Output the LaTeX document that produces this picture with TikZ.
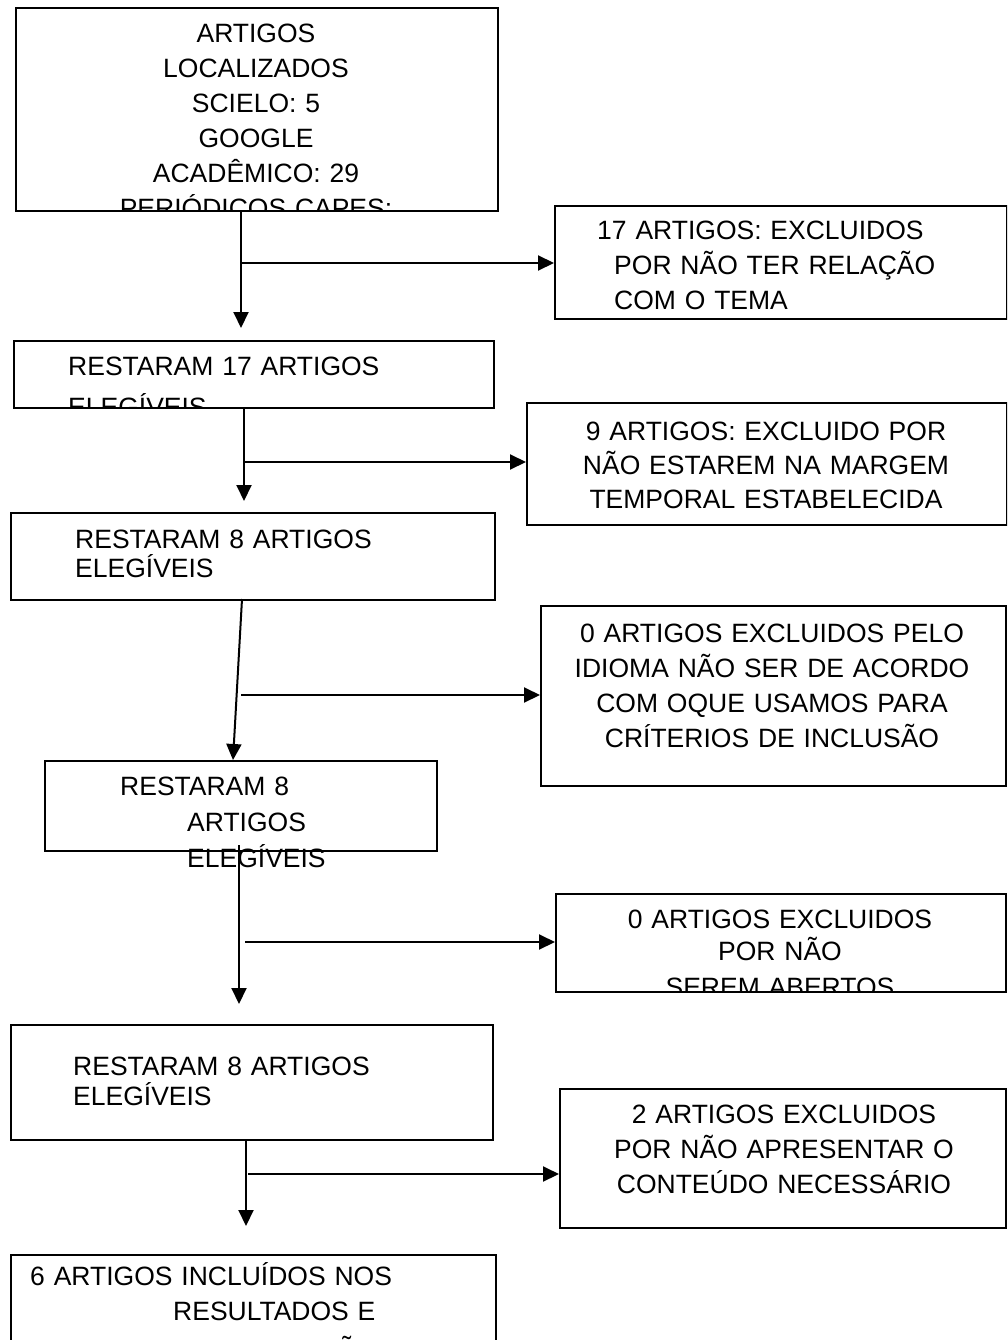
\documentclass[tikz,border=0pt]{standalone}
\usepackage{fontspec}
\setmainfont{Liberation Sans}
\usetikzlibrary{arrows.meta}
\tikzset{
  box/.style={draw=black, line width=1.9pt, inner sep=0pt, anchor=north west},
  txt/.style={font=\fontsize{26.5}{35}\selectfont, inner sep=0pt, anchor=base},
  ltxt/.style={txt, anchor=base west, align=left},
  ctxt/.style={txt, anchor=base, align=center},
  arr/.style={line width=2pt, -{Triangle[length=16pt,width=15pt]}},
}
\begin{document}
\begin{tikzpicture}[x=1pt,y=-1pt]
\useasboundingbox (0,0) rectangle (1007,1340);
\clip (0,0) rectangle (1007,1340);
\fill[white] (0,0) rectangle (1007,1340);

% boxes
\node[box, minimum width=482pt, minimum height=203pt] (b1) at (15,7) {};
\node[box, minimum width=452pt, minimum height=113pt] (b3) at (554,205) {};
\node[box, minimum width=480pt, minimum height=67pt] (b2) at (13,340) {};
\node[box, minimum width=480pt, minimum height=122pt] (b4) at (526,402) {};
\node[box, minimum width=484pt, minimum height=87pt] (b5) at (10,512) {};
\node[box, minimum width=465pt, minimum height=180pt] (b6) at (540,605) {};
\node[box, minimum width=392pt, minimum height=90pt] (b7) at (44,760) {};
\node[box, minimum width=450pt, minimum height=98pt] (b8) at (555,893) {};
\node[box, minimum width=482pt, minimum height=115pt] (b9) at (10,1024) {};
\node[box, minimum width=446pt, minimum height=139pt] (b10) at (559,1088) {};
\node[box, minimum width=485pt, minimum height=120pt] (b11) at (10,1254) {};

% texts
\begin{scope}
\clip (b1.south west) rectangle (b1.north east);
\node[ctxt, text width=470pt] (t1) at (256,43) {ARTIGOS\\LOCALIZADOS\\SCIELO: 5\\GOOGLE\\ACADÊMICO: 29\\PERIÓDICOS CAPES:};
\end{scope}
\node[ltxt, text width=400pt] (t3) at (597,240) {17 ARTIGOS: EXCLUIDOS\\\hspace*{17pt}POR NÃO TER RELAÇÃO\\\hspace*{17pt}COM O TEMA};
\begin{scope}
\clip (b2.south west) rectangle (b2.north east);
\node[ltxt, text width=420pt] (t2) at (68,375) {RESTARAM 17 ARTIGOS\\[6pt]ELEGÍVEIS};
\end{scope}
\node[ctxt, text width=470pt, font=\fontsize{26.5}{34}\selectfont] (t4) at (766,440) {9 ARTIGOS: EXCLUIDO POR\\NÃO ESTAREM NA MARGEM\\TEMPORAL ESTABELECIDA};
\node[ltxt, text width=400pt, font=\fontsize{26.5}{29}\selectfont] (t5) at (75,548) {RESTARAM 8 ARTIGOS\\ELEGÍVEIS};
\node[ctxt, text width=460pt] (t6) at (772,642) {0 ARTIGOS EXCLUIDOS PELO\\IDIOMA NÃO SER DE ACORDO\\COM OQUE USAMOS PARA\\CRÍTERIOS DE INCLUSÃO};
\node[ltxt, text width=300pt, font=\fontsize{26.5}{36}\selectfont] (t7) at (120,795) {RESTARAM 8\\\hspace*{67pt}ARTIGOS\\\hspace*{67pt}ELEGÍVEIS};
\begin{scope}
\clip (b8.south west) rectangle (b8.north east);
\node[ctxt, text width=440pt, font=\fontsize{26.5}{32}\selectfont] (t8) at (780,928) {0 ARTIGOS EXCLUIDOS\\POR NÃO\\[4pt]SEREM ABERTOS};
\end{scope}
\node[ltxt, text width=400pt, font=\fontsize{26.5}{30}\selectfont] (t9) at (73,1075) {RESTARAM 8 ARTIGOS\\ELEGÍVEIS};
\node[ctxt, text width=440pt] (t10) at (784,1123) {2 ARTIGOS EXCLUIDOS\\POR NÃO APRESENTAR O\\CONTEÚDO NECESSÁRIO};
\node[ltxt, text width=460pt] (t11) at (30,1285) {6 ARTIGOS INCLUÍDOS NOS\\\hspace*{143pt}RESULTADOS E\\[4pt]\hspace*{190pt}DISCUSSÃO};

% connectors
\coordinate (j1) at (241,263);
\coordinate (e1) at (241,328);
\draw[arr] (j1 |- b1.south) -- (e1);
\draw[arr] (j1) -- (j1 -| b3.west);

\coordinate (j2) at (244,462);
\coordinate (e2) at (244,501);
\draw[arr] (j2 |- b2.south) -- (e2);
\draw[arr] (j2) -- (j2 -| b4.west);

\coordinate (s3) at (242,599);
\coordinate (j3) at (241,695);
\coordinate (e3) at (233,760);
\draw[arr] (s3) -- (e3);
\draw[arr] (j3) -- (j3 -| b6.west);

\coordinate (s4) at (239,845);
\coordinate (j4) at (245,942);
\coordinate (e4) at (239,1004);
\draw[arr] (s4) -- (e4);
\draw[arr] (j4) -- (j4 -| b8.west);

\coordinate (j5) at (248,1174);
\coordinate (e5) at (246,1226);
\draw[arr] (e5 |- b9.south) -- (e5);
\draw[arr] (j5) -- (j5 -| b10.west);
\end{tikzpicture}
\end{document}
